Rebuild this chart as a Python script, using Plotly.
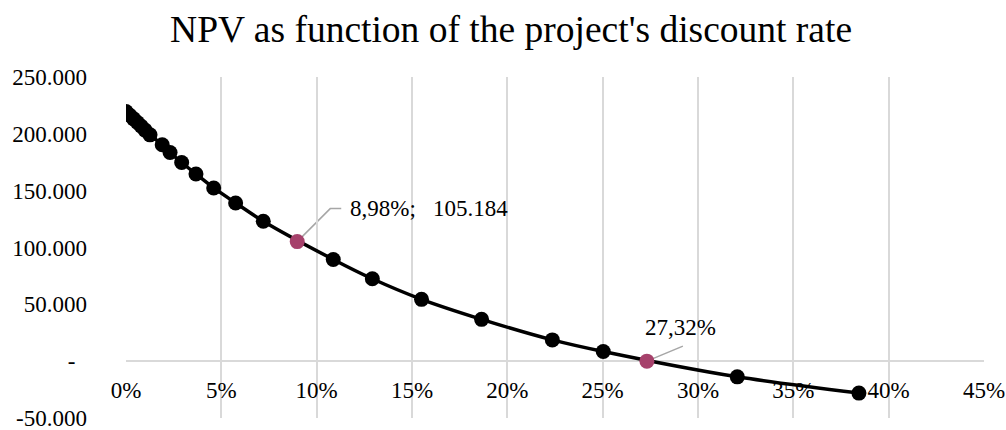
import plotly.graph_objects as go

# Discount rate (fraction) and NPV of the project at that rate
rates = [0.0, 0.002, 0.004, 0.006, 0.008, 0.010, 0.0126, 0.019, 0.0231, 0.0292,
         0.0367, 0.046, 0.0575, 0.072, 0.1087, 0.1292, 0.155, 0.1865, 0.2236,
         0.2503, 0.3206, 0.3844]
npv = [219600, 216400, 213200, 210000, 206700, 203300, 199100, 190400, 183600,
       174800, 164700, 152400, 139200, 123100, 89500, 72500, 54400, 36800,
       18700, 8500, -13800, -28100]

# Highlighted points: project's own rate and the IRR
hl_rates = [0.0898, 0.2732]
hl_npv = [105184, 0]
hl_labels = ["8,98%;\u00a0\u00a0\u00a0105.184", "27,32%"]

x_ticks = [0, 0.05, 0.10, 0.15, 0.20, 0.25, 0.30, 0.35, 0.40, 0.45]
x_text = ["0%", "5%", "10%", "15%", "20%", "25%", "30%", "35%", "40%", "45%"]
y_ticks = [-50000, 0, 50000, 100000, 150000, 200000, 250000]
y_text = ["-50.000", "-\u00a0\u00a0", "50.000", "100.000", "150.000", "200.000", "250.000"]

FONT = "Liberation Serif, Times New Roman, serif"
GRID = "#d9d9d9"
LEADER = "#a6a6a6"

fig = go.Figure()
fig.add_trace(go.Scatter(
    x=rates, y=npv, mode="lines+markers",
    line=dict(color="black", width=3.5, shape="spline", smoothing=0.8),
    marker=dict(color="black", size=15),
    showlegend=False, hoverinfo="x+y",
))
fig.add_trace(go.Scatter(
    x=hl_rates, y=hl_npv, mode="markers",
    marker=dict(color="#A6416B", size=15),
    showlegend=False, hoverinfo="x+y",
))

# Elbow leader lines from each highlighted point to its label
leader_paths = ["M0,0 L33,33 L44,33", "M0,0 L36,15"]
for xr, yv, p in zip(hl_rates, hl_npv, leader_paths):
    fig.add_shape(type="path", path=p, xref="x", yref="y",
                  xsizemode="pixel", ysizemode="pixel", xanchor=xr, yanchor=yv,
                  line=dict(color=LEADER, width=1.5), layer="below")

shifts = [(51, 33, "left"), (34, 34, "center")]
for xr, yv, t, (dx, dy, xa) in zip(hl_rates, hl_npv, hl_labels, shifts):
    fig.add_annotation(x=xr, y=yv, text=t, showarrow=False, xanchor=xa,
                       yanchor="middle", xshift=dx, yshift=dy,
                       font=dict(family=FONT, size=23, color="black"))

fig.update_layout(
    width=1006, height=430,
    margin=dict(l=126, r=22, t=77, b=12, autoexpand=False),
    paper_bgcolor="white", plot_bgcolor="white",
    font=dict(family=FONT, size=23, color="black"),
    title=dict(text="NPV as function of the project's discount rate",
               x=0.508, xanchor="center", y=0.932, yanchor="middle",
               font=dict(family=FONT, size=37.5, color="black")),
    xaxis=dict(range=[0, 0.45], tickvals=x_ticks, ticktext=x_text,
               showgrid=True, gridcolor=GRID, gridwidth=1.5,
               zeroline=False, showline=False, ticks="",
               anchor="free", position=1/6, ticklabelstandoff=13,
               automargin=False),
    yaxis=dict(range=[-50000, 250000], tickvals=y_ticks, ticktext=y_text,
               showgrid=False, zeroline=True, zerolinecolor=GRID,
               zerolinewidth=1.5, showline=False, ticks="",
               ticklabelstandoff=38, ticklabeloverflow="allow",
               automargin=False, domain=[0, 1]),
)

fig.write_html("out.html")
